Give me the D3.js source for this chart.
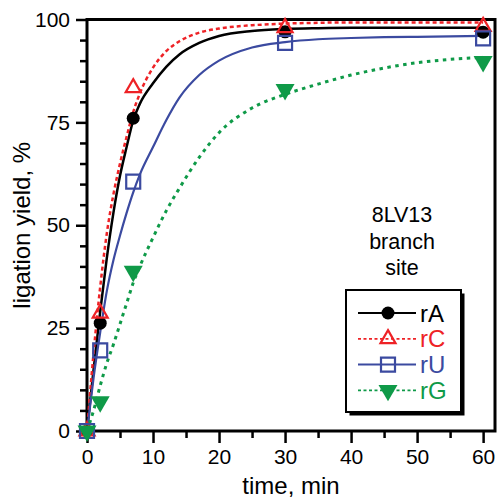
<!DOCTYPE html>
<meta charset="utf-8" />
<script src="https://d3js.org/d3.v7.min.js"></script>
<style>
  body { margin: 0; background: #fff; }
  text { font-family: "Liberation Sans", Arial, Helvetica, sans-serif; }
</style>
<div id="chart"></div>
<script>
  // measured points (time in min, ligation yield in %)
  const timePts = [0, 2, 7, 30, 60];
  const rA = [0, 26.2, 76, 97, 96.9];
  const rC = [0, 28.6, 83.4, 98, 98.3];
  const rU = [0, 19.6, 60.6, 94.3, 95.4];
  const rG = [0, 7.1, 38.8, 83, 89.8];

  // fitted curves
  const fitTime = [0, 1, 2, 3, 4, 5, 6, 7, 8, 10, 12, 14, 17, 20, 25, 30, 35, 40, 45, 50, 55, 60];
  const fitA = [0, 15, 29, 42, 53, 62, 69, 75.5, 79.5, 84.5, 88.5, 91.5, 94.3, 96, 97.2, 97.7, 97.9, 98, 98, 98, 98, 98];
  const fitC = [0, 19, 35, 48, 57.5, 65, 71.5, 77.5, 82, 88.3, 92.3, 94.7, 96.8, 97.8, 98.6, 99, 99.2, 99.3, 99.3, 99.3, 99.3, 99.3];
  const fitU = [0, 13, 24, 34, 41.5, 47.5, 53, 58, 62.3, 69, 75.5, 81, 86.5, 90, 93.2, 94.5, 95.2, 95.5, 95.7, 95.8, 95.9, 96];
  const fitG = [0, 5, 11, 16.5, 21, 26, 31, 36, 40, 47, 53.5, 59, 66.5, 72.5, 78.5, 81.8, 84.3, 86.5, 88.2, 89.5, 90.3, 90.8];

  const seriesNames = ["rA", "rC", "rU", "rG"];

  const xMajor = [0, 10, 20, 30, 40, 50, 60];
  const xMinor = [5, 15, 25, 35, 45, 55];
  const yMajor = [0, 25, 50, 75, 100];
  const yMinor = [5, 10, 15, 20, 30, 35, 40, 45, 55, 60, 65, 70, 80, 85, 90, 95];

  const width = 499, height = 498;

  const svg = d3.select("#chart").append("svg")
    .attr("width", width)
    .attr("height", height);

  const x = d3.scaleLinear().domain([0, 61.8]).range([87, 495]);
  const y = d3.scaleLinear().domain([0, 100]).range([431, 19.5]);

  // styles per series
  const series = [
    { name: "rA", pts: rA, fit: fitA, color: "#000000", dash: null, lw: 2.5, shape: "circle" },
    { name: "rC", pts: rC, fit: fitC, color: "#ee2226", dash: "4,3", lw: 2.5, shape: "triUp" },
    { name: "rU", pts: rU, fit: fitU, color: "#3b4aa0", dash: null, lw: 2.2, shape: "square" },
    { name: "rG", pts: rG, fit: fitG, color: "#0f9a48", dash: "3.5,4.5", lw: 3, shape: "triDown" }
  ];

  function markerPath(shape) {
    if (shape === "circle") return d3.symbol().type(d3.symbolCircle).size(Math.PI * 6.5 * 6.5)();
    if (shape === "square") return "M-7,-7H7V7H-7Z";
    const s = shape === "triUp" ? 15 : 19;
    const h = s * Math.sqrt(3) / 2;
    if (shape === "triUp") return `M0,${-h * 2 / 3}L${s / 2},${h / 3}L${-s / 2},${h / 3}Z`;
    return `M0,${h * 2 / 3}L${s / 2},${-h / 3}L${-s / 2},${-h / 3}Z`;
  }

  function styleMarker(sel, s) {
    const filled = s.shape === "circle" || s.shape === "triDown";
    sel.attr("d", markerPath(s.shape))
      .attr("fill", filled ? s.color : "none")
      .attr("stroke", filled ? "none" : s.color)
      .attr("stroke-width", 2.2);
  }

  // axes: major ticks with labels, minor ticks without
  svg.append("g")
    .attr("transform", `translate(0,${y(0)})`)
    .call(d3.axisBottom(x).tickValues(xMajor).tickSize(12).tickSizeOuter(0).tickPadding(6));
  svg.append("g")
    .attr("transform", `translate(0,${y(0)})`)
    .call(d3.axisBottom(x).tickValues(xMinor).tickSize(7).tickSizeOuter(0).tickFormat(""));

  svg.append("g")
    .attr("transform", `translate(${x(0)},0)`)
    .call(d3.axisLeft(y).tickValues(yMajor).tickSize(11).tickSizeOuter(0).tickPadding(6));
  svg.append("g")
    .attr("transform", `translate(${x(0)},0)`)
    .call(d3.axisLeft(y).tickValues(yMinor).tickSize(7).tickSizeOuter(0).tickFormat(""));

  svg.selectAll(".domain").remove();
  svg.selectAll(".tick line").attr("stroke", "#000").attr("stroke-width", 2.5);
  svg.selectAll(".tick text").style("font-size", "21px").attr("fill", "#000")
    .style("font-family", "'Liberation Sans', Arial, sans-serif");

  // frame
  svg.append("rect")
    .attr("x", x(0)).attr("y", y(100))
    .attr("width", x(61.8) - x(0)).attr("height", y(0) - y(100))
    .attr("fill", "none").attr("stroke", "#000").attr("stroke-width", 3);

  // axis titles
  svg.append("text")
    .attr("x", 291).attr("y", 494)
    .attr("text-anchor", "middle")
    .style("font-size", "24px")
    .text("time, min");

  svg.append("text")
    .attr("transform", `translate(30,${(y(0) + y(100)) / 2}) rotate(-90)`)
    .attr("text-anchor", "middle")
    .style("font-size", "24px")
    .text("ligation yield, %");

  // fitted curves
  const line = d3.line()
    .x((d) => x(d[0]))
    .y((d) => y(d[1]))
    .curve(d3.curveMonotoneX);

  series.forEach((s) => {
    svg.append("path")
      .datum(fitTime.map((t, i) => [t, s.fit[i]]))
      .attr("d", line)
      .attr("fill", "none")
      .attr("stroke", s.color)
      .attr("stroke-width", s.lw)
      .attr("stroke-dasharray", s.dash);
  });

  // data markers
  series.forEach((s) => {
    svg.append("g").selectAll("path")
      .data(timePts.map((t, i) => [t, s.pts[i]]))
      .join("path")
      .attr("transform", (d) => `translate(${x(d[0])},${y(d[1])})`)
      .call(styleMarker, s);
  });

  // annotation
  const note = svg.append("text")
    .attr("text-anchor", "middle")
    .style("font-size", "21.5px");
  ["8LV13", "branch", "site"].forEach((t, i) => {
    note.append("tspan").attr("x", 402).attr("y", 222 + i * 26.5).text(t);
  });

  // legend with drop shadow
  const lg = svg.append("g");
  lg.append("rect")
    .attr("x", 349.5).attr("y", 293.5).attr("width", 115).attr("height", 122)
    .attr("fill", "#000");
  lg.append("rect")
    .attr("x", 346).attr("y", 290).attr("width", 115).attr("height", 122)
    .attr("fill", "#fff").attr("stroke", "#000").attr("stroke-width", 2);

  series.forEach((s, i) => {
    const ly = 313 + i * 25.8;
    lg.append("line")
      .attr("x1", 358).attr("x2", 416).attr("y1", ly).attr("y2", ly)
      .attr("stroke", s.color)
      .attr("stroke-width", s.dash ? 1.8 : 2)
      .attr("stroke-dasharray", s.dash ? "3,2.5" : null);
    lg.append("path")
      .attr("transform", `translate(388,${ly})`)
      .call(styleMarker, s);
    lg.append("text")
      .attr("x", 420).attr("y", ly).attr("dy", "0.36em")
      .attr("fill", s.color)
      .style("font-size", "24px")
      .text(seriesNames[i]);
  });
</script>
